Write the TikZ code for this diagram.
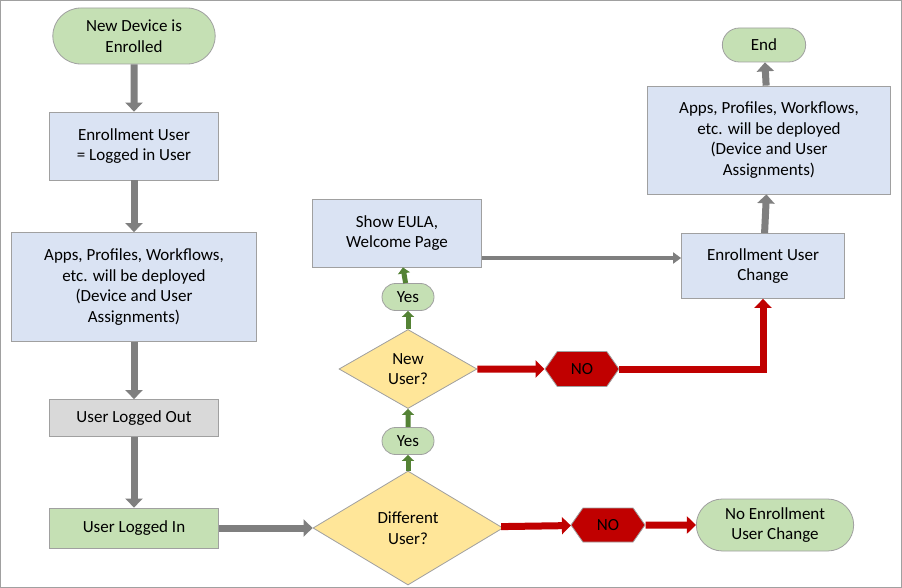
\documentclass[tikz,border=0pt]{standalone}
\usepackage{fontspec}
\setmainfont{Carlito}
\usetikzlibrary{shapes.geometric,shapes.symbols,arrows.meta}
\definecolor{bluef}{HTML}{DAE3F3}
\definecolor{greenf}{HTML}{C5E0B4}
\definecolor{grayf}{HTML}{D9D9D9}
\definecolor{yellowf}{HTML}{FFE699}
\definecolor{redf}{HTML}{C00000}
\definecolor{edgec}{HTML}{A0A0A0}
\definecolor{arrg}{HTML}{7F7F7F}
\definecolor{arrgreen}{HTML}{548235}
\begin{document}
\begin{tikzpicture}[x=1pt,y=-1pt,
  every node/.style={font=\fontsize{17}{20.5}\selectfont, align=center, draw=edgec, line width=0.8pt},
  proc/.style={rectangle, fill=bluef},
  term/.style={rounded rectangle, fill=greenf},
  dec/.style={diamond, fill=yellowf},
  hex/.style={signal, signal to=east and west, fill=redf, signal pointer angle=110},
  blk/.style={line width=7pt, -{Triangle[length=9pt,width=17pt]}},
  garr/.style={blk, arrg},
  rarr/.style={blk, redf},
  gnarr/.style={line width=5pt, -{Triangle[length=6pt,width=12pt]}, arrgreen}]
\usetikzlibrary{shapes.misc}
\draw[edgec, line width=1pt, fill=white] (0.5,0.5) rectangle (901.5,587.5);
\node[term, minimum width=169, minimum height=56] (start) at (134,36) {New Device is\\Enrolled};
\node[proc, minimum width=169, minimum height=68] (eu) at (134,146) {Enrollment User\\= Logged in User};
\node[proc, minimum width=245, minimum height=109] (appsl) at (134,287) {Apps, Profiles, Workflows,\\etc. will be deployed\\(Device and User\\Assignments)};
\node[rectangle, fill=grayf, minimum width=169, minimum height=37] (out) at (134,418) {User Logged Out};
\node[rectangle, fill=greenf, minimum width=169, minimum height=40] (in) at (134,528) {User Logged In};
\node[dec, minimum width=190, minimum height=114, inner sep=0] (diff) at (408,528) {Different\\User?};
\node[hex, minimum width=74, minimum height=34, inner sep=1pt] (no1) at (608,525) {NO};
\node[term, minimum width=164, minimum height=52] (noch) at (775,525) {No Enrollment\\User Change};
\node[term, minimum width=54, minimum height=27, inner sep=1pt] (yes1) at (408,441) {Yes};
\node[dec, minimum width=138, minimum height=79, inner sep=0] (newu) at (408,369) {New\\User?};
\node[hex, minimum width=74, minimum height=35, inner sep=1pt] (no2) at (582,369) {NO};
\node[term, minimum width=54, minimum height=27, inner sep=1pt] (yes2) at (408,297) {Yes};
\node[proc, minimum width=169, minimum height=68] (eula) at (397,233) {Show EULA,\\Welcome Page};
\node[proc, minimum width=163, minimum height=65] (euc) at (763,266) {Enrollment User\\Change};
\node[proc, minimum width=243, minimum height=108] (appsr) at (769,140) {Apps, Profiles, Workflows,\\etc. will be deployed\\(Device and User\\Assignments)};
\node[term, minimum width=90, minimum height=34] (end) at (764,45) {End};

\draw[garr] (start) -- (eu);
\draw[garr] (eu) -- (appsl);
\draw[garr] (appsl) -- (out);
\draw[garr] (out) -- (in);
\draw[garr] (in) -- (diff);
\draw[rarr] (diff) -- (no1);
\draw[rarr] (no1) -- (noch);
\draw[gnarr] (diff) -- (yes1);
\draw[gnarr] (yes1) -- (newu);
\draw[gnarr] (newu) -- (yes2);
\draw[gnarr] (yes2) -- (eula);
\draw[rarr] (newu) -- (no2);
\draw[rarr] (no2.east) -- (euc.south |- no2.east) -- (euc.south);
\draw[arrg, line width=3.5pt, -{Triangle[length=8pt,width=11pt]}] (eula.east |- 0,258) -- (euc.west |- 0,258);
\draw[garr] (euc) -- (appsr);
\draw[garr] (appsr) -- (end);
\end{tikzpicture}
\end{document}
